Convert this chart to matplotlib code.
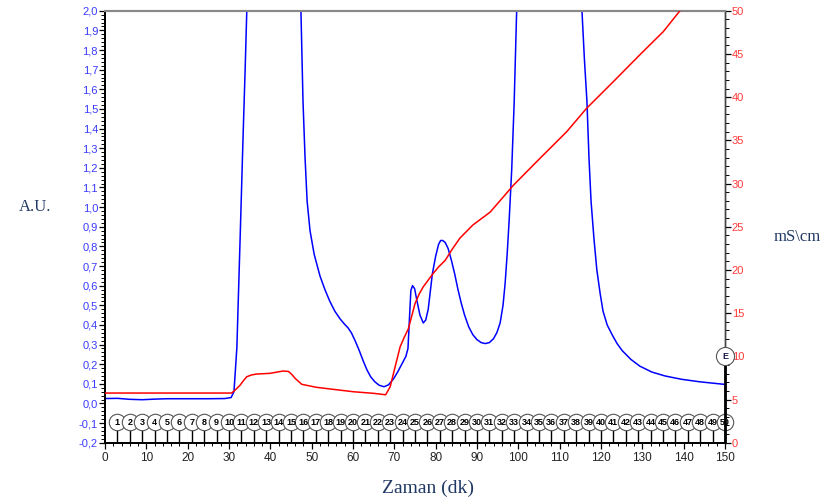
import matplotlib
matplotlib.use("Agg")
import matplotlib.pyplot as plt
from matplotlib.ticker import MultipleLocator, FuncFormatter

# UV absorbance trace (A.U.), left axis
blue_t = [0, 3, 6, 9, 12, 15, 20, 25, 29, 30.5, 31.2, 31.9, 32.7, 33.4, 33.9,
          34.3, 36, 46, 47.4, 47.9, 48.4, 48.9, 49.6, 50.6, 52.0, 53.2, 54.4,
          55.6, 56.9, 57.9, 58.8, 59.6, 60.5, 61.5, 62.5, 63.4, 64.3, 65.3,
          66.3, 67.5, 68.6, 69.8, 70.8, 71.8, 72.8, 73.3, 73.7, 74.0, 74.4,
          74.9, 75.5, 76.2, 77.0, 77.6, 78.2, 78.7, 79.2, 80.0, 80.7, 81.2,
          81.7, 82.3, 83.0, 83.8, 84.6, 85.4, 86.2, 87.0, 88.0, 89.0, 90.0,
          91.0, 92.0, 93.0, 94.0, 94.8, 95.6, 96.3, 96.8, 97.3, 97.8, 98.4,
          99.0, 99.6, 101,
          114, 115.4, 116.0, 116.6, 117.1, 117.6, 118.3, 119.0, 119.8, 120.5,
          121.5, 122.7, 123.9, 125.1, 127.2, 129.4, 132.3, 135.5, 139.5, 144,
          150]
blue_au = [0.025, 0.026, 0.021, 0.019, 0.022, 0.024, 0.024, 0.024, 0.025,
           0.03, 0.06, 0.285, 0.85, 1.36, 1.7, 2.0, 2.8, 2.8, 2.0, 1.54, 1.25,
           1.03, 0.88, 0.76, 0.65, 0.58, 0.52, 0.47, 0.43, 0.405, 0.385,
           0.36, 0.32, 0.27, 0.215, 0.17, 0.135, 0.11, 0.093, 0.085, 0.095,
           0.125, 0.16, 0.20, 0.24, 0.28, 0.45, 0.575, 0.60, 0.585, 0.52,
           0.45, 0.41, 0.425, 0.48, 0.57, 0.66, 0.75, 0.81, 0.83, 0.83,
           0.82, 0.79, 0.73, 0.66, 0.58, 0.51, 0.45, 0.39, 0.35, 0.325, 0.31,
           0.305, 0.31, 0.33, 0.36, 0.41, 0.5, 0.61, 0.76, 0.94, 1.19, 1.535,
           2.0, 2.8,
           2.8, 2.0, 1.75, 1.54, 1.25, 1.03, 0.84, 0.68, 0.56, 0.47, 0.40,
           0.35, 0.305, 0.27, 0.225, 0.19, 0.16, 0.14, 0.123, 0.11, 0.097]

# conductivity trace (mS/cm), right axis
red_t = [0, 10, 20, 30, 30.6, 31.5, 32.7, 33.6, 34.3, 35.5, 36.7, 39.9, 43.1,
         44.4, 45.2, 46.0, 47.6, 51.2, 55.2, 60.1, 64.9, 67.9, 69.0, 69.8,
         71.4, 72.4, 73.4, 75.0, 76.0, 77.0, 79.4, 80.8, 82.3, 84.0, 85.9,
         89.0, 93.2, 98.8, 105.2, 111.7, 116.5, 123.0, 129.4, 135.1, 139.1]
red_ms = [5.75, 5.75, 5.75, 5.75, 5.75, 6.1, 6.67, 7.25, 7.64, 7.85, 7.95,
          8.03, 8.3, 8.25, 7.9, 7.45, 6.76, 6.41, 6.18, 5.9, 5.72, 5.55, 6.48,
          8.03, 11.1, 12.2, 13.2, 16.1, 17.2, 18.05, 19.6, 20.4, 21.1, 22.4,
          23.7, 25.2, 26.7, 29.8, 32.9, 36.0, 38.7, 41.8, 44.9, 47.6, 50.0]

# fraction collector marks
fractions = list(range(1, 51))
fraction_t = [3 * n for n in fractions]
end_mark_t = 150
end_mark_ms = 10

LABEL_COLOR = '#203864'


def comma_fmt(v, pos):
    return f"{round(v, 1):.1f}".replace('.', ',').replace('-0,0', '0,0')


def draw_chart():
    fig = plt.figure(figsize=(8.29, 5.04), dpi=100)
    ax = fig.add_axes([0.1267, 0.1216, 0.7478, 0.857])
    ax2 = ax.twinx()

    ax.plot(blue_t, blue_au, color='#0000ff', lw=1.1, zorder=3)
    ax2.plot(red_t, red_ms, color='#ff0000', lw=1.1, zorder=3)

    ax.set_xlim(0, 150)
    ax.set_ylim(-0.2, 2.0)
    ax2.set_ylim(0, 50)

    # fraction circles with stems
    ax.vlines(fraction_t, -0.2, -0.13, color='black', lw=1.0, zorder=4)
    for i, (n, t) in enumerate(zip(fractions, fraction_t)):
        ax.scatter([t], [-0.095], s=140, facecolor='white',
                   edgecolor='#555555', linewidth=0.8, zorder=5 + i * 0.01,
                   clip_on=False)
        ax.text(t, -0.095, str(n), ha='center', va='center', fontsize=6.5,
                fontweight='bold', family='Liberation Sans', zorder=6,
                clip_on=False)

    # end mark on the right axis
    ax2.vlines(end_mark_t, 0, end_mark_ms, color='black', lw=2.0,
               zorder=6, clip_on=False)
    ax2.scatter([end_mark_t], [end_mark_ms], s=170, facecolor='white',
                edgecolor='#555555', linewidth=0.8, zorder=7, clip_on=False)
    ax2.text(end_mark_t, end_mark_ms, 'E', ha='center', va='center',
             fontsize=6.5, fontweight='bold', color='#1a1a4a',
             family='Liberation Sans', zorder=8, clip_on=False)

    # ticks
    ax.xaxis.set_major_locator(MultipleLocator(10))
    ax.xaxis.set_minor_locator(MultipleLocator(2))
    ax.yaxis.set_major_locator(MultipleLocator(0.1))
    ax.yaxis.set_minor_locator(MultipleLocator(0.02))
    ax.yaxis.set_major_formatter(FuncFormatter(comma_fmt))
    ax2.yaxis.set_major_locator(MultipleLocator(5))
    ax2.yaxis.set_minor_locator(MultipleLocator(1))

    ax.tick_params(axis='x', which='major', length=4, width=0.9, pad=3,
                   labelsize=8.5, labelcolor='#222222')
    ax.tick_params(axis='x', which='minor', length=2, width=0.7)
    ax.tick_params(axis='y', which='major', length=4, width=0.9, pad=1,
                   labelsize=8, labelcolor='#3a3aff')
    ax.tick_params(axis='y', which='minor', length=3, width=0.7)
    ax2.tick_params(axis='y', which='major', length=4, width=0.9, pad=1,
                    labelsize=8, labelcolor='#ff3a3a')
    ax2.tick_params(axis='y', which='minor', length=3, width=0.7)
    for a in (ax, ax2):
        for lbl in a.get_xticklabels() + a.get_yticklabels():
            lbl.set_family('Liberation Sans')

    for a in (ax, ax2):
        a.spines['top'].set_color('#888888')
        a.spines['top'].set_linewidth(1.5)
        a.spines['left'].set_linewidth(1.3)
        a.spines['bottom'].set_linewidth(1.3)
        a.spines['right'].set_color('#444444')
        a.spines['right'].set_linewidth(1.0)

    fig.text(35 / 829, 1 - 207 / 504, 'A.U.', ha='center', va='center',
             fontsize=12, family='Liberation Serif', color=LABEL_COLOR)
    fig.text(797 / 829, 1 - 237 / 504, 'mS\\cm', ha='center', va='center',
             fontsize=12, family='Liberation Serif', color=LABEL_COLOR)
    fig.text(428 / 829, 1 - 488 / 504, 'Zaman (dk)', ha='center',
             va='center', fontsize=14, family='Liberation Serif',
             color=LABEL_COLOR)

    fig.savefig('out.png', dpi=100)
    plt.close(fig)


if __name__ == "__main__":
    draw_chart()
